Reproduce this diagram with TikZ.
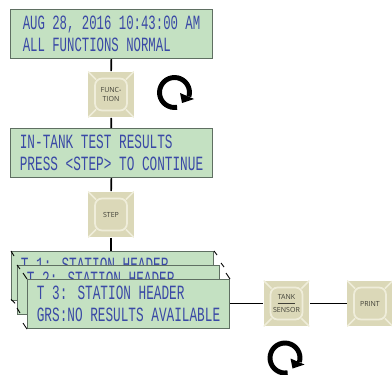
\documentclass[tikz,border=0pt]{standalone}
\usepackage{fontspec}
\usepackage{xcolor}
\usetikzlibrary{arrows.meta, positioning}
\newfontfamily\lcdfont[FakeStretch=0.63]{Liberation Mono}
\newfontfamily\lcdnarrow[FakeStretch=0.61]{Liberation Mono}
\newfontfamily\keyfont{Open Sans}
\definecolor{lcdgreen}{HTML}{C4E1C2}
\definecolor{lcdblue}{HTML}{3A49A6}
\definecolor{lcdedge}{HTML}{5F6F62}
\definecolor{keyface}{HTML}{DBD8B8}
\definecolor{keylight}{HTML}{EFEDDA}
\definecolor{keytext}{HTML}{3F3F36}
\begin{document}
\begin{tikzpicture}[
        x=0.02cm, y=-0.02cm,
        lcd/.style={rectangle, draw=lcdedge, line width=0.6pt, fill=lcdgreen, anchor=north west,
            minimum width=4.04cm, minimum height=0.98cm, inner sep=0pt,
            align=left, text=lcdblue, font=\lcdfont\fontsize{11.5}{12.6}\selectfont},
        key/.style={rectangle, fill=keyface, minimum size=0.92cm, inner sep=0pt, align=center,
            text=keytext, font=\keyfont\fontsize{4}{5.2}\selectfont,
            path picture={
                \draw[keylight, line width=0.9pt] (path picture bounding box.north west) -- ++(8,8)
                    (path picture bounding box.north east) -- ++(-8,8)
                    (path picture bounding box.south west) -- ++(8,-8)
                    (path picture bounding box.south east) -- ++(-8,-8);
                \draw[keylight, line width=1pt, rounded corners=4pt]
                    ([shift={(7,7)}]path picture bounding box.north west) rectangle
                    ([shift={(-7,-7)}]path picture bounding box.south east);
            }},
        link/.style={draw=black, line width=0.9pt},
        tick/.style={draw=black, line width=0.5pt},
        turn/.style={draw=black, line width=2.8pt},
        turnhead/.style={fill=black}
    ]
        \useasboundingbox (0,0) rectangle (392,375);
        % display boxes
        \node[lcd, font=\lcdnarrow\fontsize{11.5}{12.2}\selectfont] (clock) at (10,9) {AUG 28, 2016 10:43:00 AM\\ALL FUNCTIONS NORMAL};
        \node[lcd] (intank) at (10,128) {IN-TANK TEST RESULTS\\PRESS <STEP> TO CONTINUE};
        % keys
        \node[key] (function) at (111,94.5) {FUNC-\\TION};
        \node[key] (stepkey) at (111,214.5) {STEP};
        \node[key] (tank) at (286.5,303.5) {TANK\\[-2.4pt]\rule{10pt}{0.9pt}\\[-0.4pt]SENSOR};
        \node[key] (print) at (370,303.5) {PRINT};
        % stacked reports
        \node[lcd] (t1) at (11,251) {T 1: STATION HEADER\\GRS:NO RESULTS AVAILABLE};
        \node[lcd] (t2) at (17,265) {T 2: STATION HEADER\\GRS:NO RESULTS AVAILABLE};
        \node[lcd] (t3) at (27,279) {T 3: STATION HEADER\\GRS:NO RESULTS AVAILABLE};
        \draw[tick] (t1.north west) -- ++(3,5);
        \draw[tick] (t1.north east) -- ++(3,4);
        \draw[tick] ([yshift=1pt]t1.south west) -- ++(4,4);
        \draw[tick] (t2.north west) -- ++(3,4);
        \draw[tick] ([shift={(1,-2)}]t2.north east) -- ++(3,4);
        \draw[tick] ([yshift=4pt]t2.south west) -- ++(3,5);
        \foreach \n in {t3.north west,t3.south west,t3.north east}
            \draw[tick] (\n) -- ++(-4,-6);
        % connectors
        \draw[link] (clock) -- (function);
        \draw[link] (function) -- (intank);
        \draw[link] (intank) -- (stepkey);
        \draw[link] (stepkey) -- (stepkey |- t1.north);
        \draw[link] (t3.east |- tank) -- (tank);
        \draw[link] (tank) -- (print);
        % rotation arrows
        \coordinate (loopa) at (174.5,92.5);
        \coordinate (loopb) at (285,358);
        \foreach \c in {loopa,loopb} {
            \draw[turn] (\c) ++(80:15) arc[start angle=80, end angle=376, radius=15];
            \fill[turnhead] (\c) ++(5.5,0.5) -- ++(14,6) -- ++(-12,4) -- cycle;
        }
    \end{tikzpicture}
\end{document}
